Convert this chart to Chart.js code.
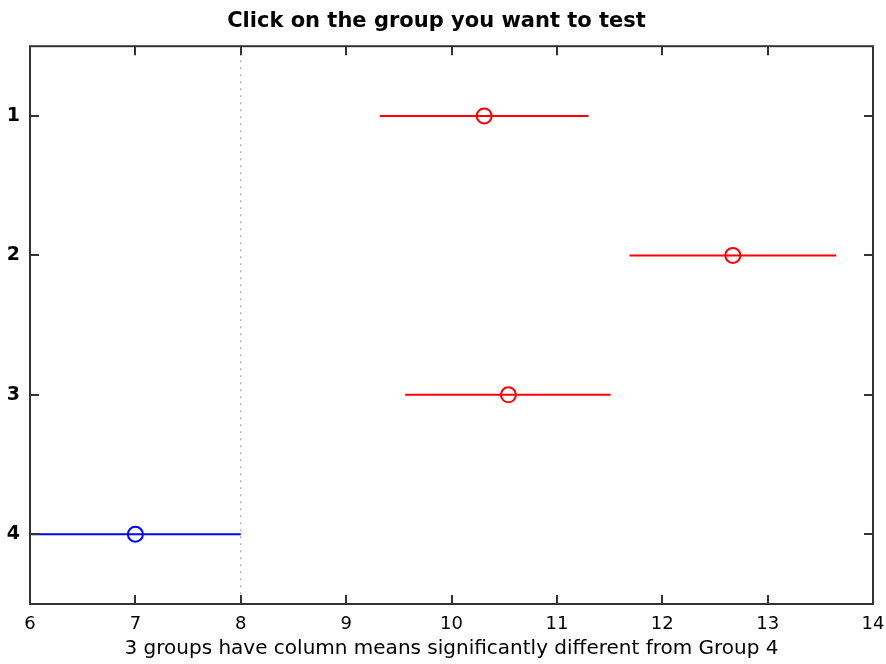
<!DOCTYPE html>
<html>
<head>
<meta charset="utf-8">
<script src="https://cdn.jsdelivr.net/npm/chart.js@4.4.0/dist/chart.umd.min.js"></script>
<style>
  body { margin: 0; background: #fff; }
  canvas { display: block; }
</style>
</head>
<body>
<canvas id="chart" width="886" height="664"></canvas>
<script>
// group comparison data
const groups = ['1', '2', '3', '4'];
const means = [10.31, 12.67, 10.54, 7.0];
const lower = [9.32, 11.69, 9.56, 6.0];
const upper = [11.30, 13.65, 11.51, 8.0];
const selected = 3; // Group 4
const xTicks = [6, 7, 8, 9, 10, 11, 12, 13, 14];

const colorFor = i => (i === selected ? '#0000ff' : '#ff0000');
const FONT = 'DejaVu Sans, Verdana, sans-serif';

const datasets = [];
// dotted lines at the bounds of the selected group
[lower[selected], upper[selected]].forEach(v => {
  datasets.push({
    type: 'line',
    data: [{ x: v, y: 0.5 }, { x: v, y: 4.5 }],
    borderColor: '#b8b8b8',
    borderWidth: 1.5,
    borderDash: [2, 5],
    pointRadius: 0,
    showLine: true
  });
});
groups.forEach((g, i) => {
  datasets.push({
    type: 'line',
    data: [{ x: lower[i], y: i + 1 }, { x: upper[i], y: i + 1 }],
    borderColor: colorFor(i),
    borderWidth: 2,
    pointRadius: 0,
    showLine: true
  });
});
datasets.push({
  type: 'scatter',
  data: means.map((m, i) => ({ x: m, y: i + 1 })),
  pointRadius: 7.5,
  pointBorderWidth: 2,
  pointBackgroundColor: 'rgba(0,0,0,0)',
  pointBorderColor: means.map((m, i) => colorFor(i))
});

// box + inward ticks like the original axes
const frame = {
  id: 'frame',
  afterDraw(chart) {
    const ctx = chart.ctx;
    const a = chart.chartArea;
    const x = chart.scales.x, y = chart.scales.y;
    ctx.save();
    ctx.strokeStyle = '#333';
    ctx.lineWidth = 2;
    ctx.strokeRect(a.left, a.top, a.right - a.left, a.bottom - a.top);
    ctx.beginPath();
    xTicks.forEach(v => {
      const px = Math.round(x.getPixelForValue(v));
      ctx.moveTo(px, a.bottom); ctx.lineTo(px, a.bottom - 9);
      ctx.moveTo(px, a.top); ctx.lineTo(px, a.top + 9);
    });
    groups.forEach((g, i) => {
      const py = Math.round(y.getPixelForValue(i + 1));
      ctx.moveTo(a.left, py); ctx.lineTo(a.left + 9, py);
      ctx.moveTo(a.right, py); ctx.lineTo(a.right - 9, py);
    });
    ctx.stroke();
    ctx.restore();
  }
};

new Chart(document.getElementById('chart'), {
  data: { datasets },
  options: {
    responsive: false,
    animation: false,
    layout: { padding: { left: 0, right: 13, top: 0, bottom: 0 } },
    plugins: {
      legend: { display: false },
      tooltip: { enabled: false },
      title: {
        display: true,
        text: 'Click on the group you want to test',
        color: '#000',
        font: { family: FONT, size: 21, weight: 'bold' },
        padding: { top: 9, bottom: 12 }
      }
    },
    scales: {
      x: {
        type: 'linear',
        min: 6,
        max: 14,
        grid: { display: false, drawTicks: false },
        border: { display: false },
        afterBuildTicks: s => { s.ticks = xTicks.map(v => ({ value: v })); },
        afterFit: s => { s.height = 60; s.paddingLeft = 0; s.paddingRight = 0; },
        ticks: {
          color: '#000',
          padding: 10,
          maxRotation: 0,
          font: { family: FONT, size: 18 }
        },
        title: {
          display: true,
          text: '3 groups have column means significantly different from Group 4',
          color: '#000',
          font: { family: FONT, size: 20 },
          padding: { top: 2, bottom: 3 }
        }
      },
      y: {
        type: 'linear',
        min: 0.5,
        max: 4.5,
        reverse: true,
        grid: { display: false, drawTicks: false },
        border: { display: false },
        afterBuildTicks: s => { s.ticks = groups.map((g, i) => ({ value: i + 1 })); },
        afterFit: s => { s.width = 30; },
        ticks: {
          color: '#000',
          padding: 10,
          callback: v => groups[v - 1],
          font: { family: FONT, size: 19, weight: 'bold' }
        }
      }
    }
  },
  plugins: [frame]
});
</script>
</body>
</html>
